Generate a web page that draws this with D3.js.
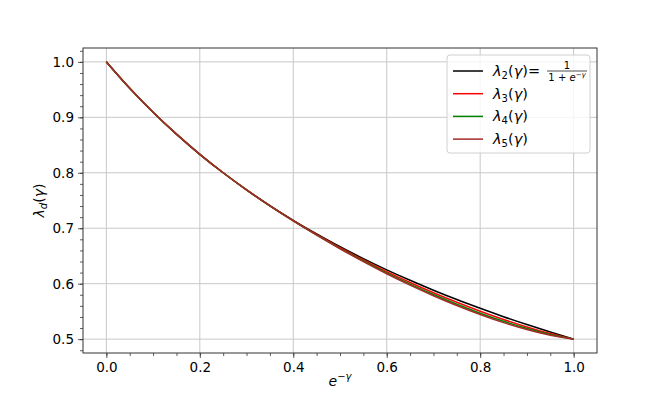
<!DOCTYPE html>
<html>
<head>
<meta charset="utf-8">
<script src="https://cdn.jsdelivr.net/npm/d3@7"></script>
<style>
  body { margin: 0; background: #fff; }
  text { font-family: "DejaVu Sans", sans-serif; fill: #000; }
</style>
</head>
<body>
<script>
const xs = [0, 0.05, 0.1, 0.15, 0.2, 0.25, 0.3, 0.35, 0.4, 0.45, 0.5,
  0.55, 0.6, 0.65, 0.7, 0.75, 0.8, 0.85, 0.9, 0.95, 1.0];
const lambda2 = [1.0000, 0.9524, 0.9091, 0.8696, 0.8333, 0.8000, 0.7692, 0.7407, 0.7143, 0.6897, 0.6667,
  0.6452, 0.6250, 0.6061, 0.5882, 0.5714, 0.5556, 0.5405, 0.5263, 0.5128, 0.5000];
const lambda3 = [1.0000, 0.9524, 0.9091, 0.8696, 0.8333, 0.8000, 0.7692, 0.7405, 0.7138, 0.6887, 0.6650,
  0.6427, 0.6217, 0.6021, 0.5836, 0.5664, 0.5504, 0.5355, 0.5220, 0.5100, 0.5000];
const lambda4 = [1.0000, 0.9524, 0.9091, 0.8696, 0.8333, 0.8000, 0.7691, 0.7403, 0.7134, 0.6880, 0.6638,
  0.6409, 0.6194, 0.5993, 0.5804, 0.5629, 0.5468, 0.5321, 0.5191, 0.5082, 0.5000];
const lambda5 = [1.0000, 0.9524, 0.9091, 0.8696, 0.8333, 0.8000, 0.7691, 0.7402, 0.7131, 0.6875, 0.6630,
  0.6398, 0.6179, 0.5975, 0.5783, 0.5606, 0.5444, 0.5298, 0.5172, 0.5070, 0.5000];

const xTicks = [0, 0.2, 0.4, 0.6, 0.8, 1.0];
const yTicks = [0.5, 0.6, 0.7, 0.8, 0.9, 1.0];

const series = [
  { name: 2, values: lambda2, colour: '#000000' },
  { name: 3, values: lambda3, colour: '#ff0000' },
  { name: 4, values: lambda4, colour: '#008000' },
  { name: 5, values: lambda5, colour: '#a52a2a' },
];

const svg = d3.select('body')
  .append('svg')
  .attr('width', 664)
  .attr('height', 397);

const margin = { top: 48, right: 67, bottom: 44, left: 83 };
const width = svg.attr('width') - margin.left - margin.right;
const height = svg.attr('height') - margin.top - margin.bottom;

const g = svg.append('g')
  .attr('transform', `translate(${margin.left} ${margin.top})`);

const x = d3.scaleLinear()
  .domain([-0.05, 1.05])
  .range([0, width]);

const y = d3.scaleLinear()
  .domain([0.475, 1.025])
  .range([height, 0]);

// grid
g.selectAll('.gx')
  .data(xTicks)
  .enter()
    .append('line')
    .attr('x1', d => x(d)).attr('x2', d => x(d))
    .attr('y1', 0).attr('y2', height)
    .attr('stroke', '#c8c8c8').attr('stroke-width', 1);
g.selectAll('.gy')
  .data(yTicks)
  .enter()
    .append('line')
    .attr('x1', 0).attr('x2', width)
    .attr('y1', d => y(d)).attr('y2', d => y(d))
    .attr('stroke', '#c8c8c8').attr('stroke-width', 1);

// axes
const xAxis = g.append('g')
  .attr('transform', `translate(0 ${height})`)
  .call(d3.axisBottom(x).tickValues(xTicks).tickFormat(d3.format('.1f')).tickSizeOuter(0).tickSize(5).tickPadding(4));
const xMinor = g.append('g')
  .attr('transform', `translate(0 ${height})`)
  .call(d3.axisBottom(x).tickValues(d3.range(0, 1.0001, 0.05)).tickFormat('').tickSizeOuter(0).tickSize(3));
const yAxis = g.append('g')
  .call(d3.axisLeft(y).tickValues(yTicks).tickFormat(d3.format('.1f')).tickSizeOuter(0).tickSize(5).tickPadding(4));
const yMinor = g.append('g')
  .call(d3.axisLeft(y).tickValues(d3.range(0.48, 1.021, 0.02)).tickFormat('').tickSizeOuter(0).tickSize(3));

[xAxis, yAxis].forEach(a => a.selectAll('text').attr('font-size', 13.5).attr('font-family', 'DejaVu Sans'));
[xAxis, yAxis, xMinor, yMinor].forEach(a => {
  a.select('.domain').remove();
  a.selectAll('line').attr('stroke', '#333').attr('stroke-width', 0.8);
});

// curves
const line = d3.line()
  .x((d, i) => x(xs[i]))
  .y(d => y(d))
  .curve(d3.curveMonotoneX);

series.forEach(s => {
  g.append('path')
    .datum(s.values)
    .attr('fill', 'none')
    .attr('stroke', s.colour)
    .attr('stroke-width', 1.5)
    .attr('d', line);
});

// frame
g.append('rect')
  .attr('width', width).attr('height', height)
  .attr('fill', 'none').attr('stroke', '#333').attr('stroke-width', 1);

// axis labels
const xl = svg.append('text')
  .attr('x', margin.left + x(0.5))
  .attr('y', 386)
  .attr('text-anchor', 'middle')
  .attr('font-size', 14);
xl.append('tspan').attr('font-style', 'italic').text('e');
xl.append('tspan').attr('dy', -6).attr('font-size', 10).attr('font-style', 'italic').text('−γ');

const yl = svg.append('text')
  .attr('transform', `translate(44 ${margin.top + y(0.75)}) rotate(-90)`)
  .attr('text-anchor', 'middle')
  .attr('font-size', 14);
yl.append('tspan').attr('font-style', 'italic').text('λ');
yl.append('tspan').attr('dy', 3).attr('font-size', 10).attr('font-style', 'italic').text('d');
yl.append('tspan').attr('dy', -3).text('(');
yl.append('tspan').attr('font-style', 'italic').text('γ');
yl.append('tspan').text(')');

// legend
const lg = svg.append('g').attr('transform', 'translate(447 55)');
lg.append('rect')
  .attr('width', 143).attr('height', 98)
  .attr('rx', 3)
  .attr('fill', 'rgba(255,255,255,0.8)')
  .attr('stroke', '#d0d0d0').attr('stroke-width', 1);

series.forEach((s, i) => {
  const yy = 16 + i * 22.7;
  lg.append('line')
    .attr('x1', 6).attr('x2', 36)
    .attr('y1', yy).attr('y2', yy)
    .attr('stroke', s.colour).attr('stroke-width', 1.5);
  const t = lg.append('text')
    .attr('x', 46).attr('y', yy + 5)
    .attr('font-size', 14.5);
  t.append('tspan').attr('font-style', 'italic').text('λ');
  t.append('tspan').attr('dy', 3).attr('font-size', 10).text(s.name);
  t.append('tspan').attr('dy', -3).text('(');
  t.append('tspan').attr('font-style', 'italic').text('γ');
  t.append('tspan').text(')');
  if (i === 0) {
    t.append('tspan').text('=');
    // small fraction
    lg.append('text').attr('x', 120).attr('y', yy - 2).attr('text-anchor', 'middle')
      .attr('font-size', 10).text('1');
    lg.append('line').attr('x1', 100).attr('x2', 140).attr('y1', yy).attr('y2', yy)
      .attr('stroke', '#000').attr('stroke-width', 0.7);
    const den = lg.append('text').attr('x', 120).attr('y', yy + 9.5).attr('text-anchor', 'middle')
      .attr('font-size', 10);
    den.append('tspan').text('1 + ');
    den.append('tspan').attr('font-style', 'italic').text('e');
    den.append('tspan').attr('dy', -3.5).attr('font-size', 7).attr('font-style', 'italic').text('−γ');
  }
});
</script>
</body>
</html>
